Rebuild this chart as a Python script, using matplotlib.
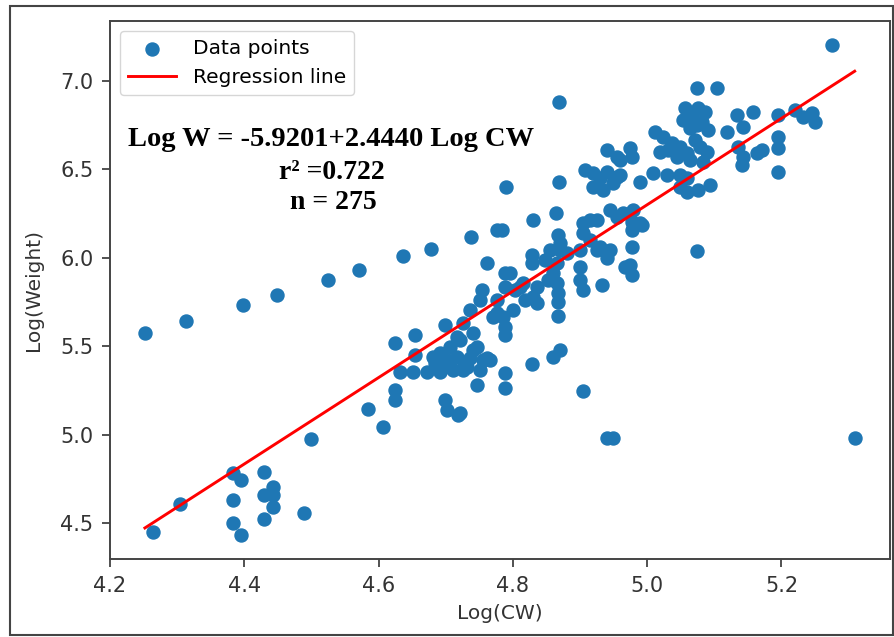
import matplotlib
matplotlib.use("Agg")
import matplotlib.pyplot as plt
import matplotlib.patches as patches
import numpy as np

# Log carapace width vs log weight
log_cw = [
    4.252, 4.313, 4.398, 4.449, 4.525, 4.571, 4.636, 4.678, 4.264, 4.304,
    4.383, 4.395, 4.383, 4.383, 4.395, 4.429, 4.443, 4.429, 4.443, 4.443,
    4.429, 4.489, 4.499, 4.584, 4.607, 4.624, 4.624, 4.624, 4.654, 4.654,
    4.632, 4.651, 4.672, 4.691, 4.711, 4.732, 4.751, 4.761, 4.747, 4.681,
    4.691, 4.684, 4.699, 4.726, 4.741, 4.706, 4.721, 4.699, 4.702, 4.721,
    4.747, 4.738, 4.776, 4.761, 4.754, 4.736, 4.751, 4.776, 4.770, 4.706,
    4.726, 4.718, 4.741, 4.755, 4.766, 4.717, 4.785, 4.788, 4.788, 4.788,
    4.788, 4.788, 4.788, 4.796, 4.790, 4.784, 4.811, 4.830, 4.836, 4.800,
    4.776, 4.828, 4.828, 4.828, 4.830, 4.815, 4.836, 4.864, 4.867, 4.869,
    4.869, 4.870, 4.870, 4.855, 4.881, 4.860, 4.866, 4.867, 4.867, 4.867,
    4.870, 4.860, 4.866, 4.900, 4.925, 4.945, 4.940, 4.900, 4.900, 4.904,
    4.933, 4.905, 4.904, 4.915, 4.930, 4.915, 4.904, 4.925, 4.945, 4.955,
    4.964, 4.977, 4.992, 4.977, 4.907, 4.919, 4.940, 4.955, 4.949, 4.919,
    4.940, 4.974, 4.977, 4.955, 4.940, 4.949, 4.977, 4.974, 4.967, 4.977,
    4.960, 4.960, 4.989, 4.979, 4.989, 5.012, 5.024, 5.037, 5.049, 5.019,
    5.059, 5.079, 5.089, 5.083, 5.064, 5.044, 5.074, 5.104, 5.056, 5.076,
    5.067, 5.053, 5.082, 5.091, 5.074, 5.119, 5.009, 5.029, 5.049, 5.059,
    5.049, 5.059, 5.076, 5.094, 5.074, 5.134, 5.143, 5.158, 5.135, 5.143,
    5.141, 5.164, 5.171, 5.195, 5.220, 5.232, 5.245, 5.250, 5.195, 5.195,
    5.195, 5.275, 5.309,
    4.702, 4.717, 4.736, 4.930, 4.934, 5.064, 5.086, 5.031, 5.071, 4.848,
    4.852, 4.818, 4.803, 4.694, 4.727,
]
log_weight = [
    5.575, 5.643, 5.733, 5.790, 5.874, 5.931, 6.010, 6.050, 4.449, 4.607,
    4.783, 4.743, 4.630, 4.500, 4.432, 4.788, 4.704, 4.658, 4.658, 4.591,
    4.523, 4.557, 4.975, 5.145, 5.043, 5.518, 5.252, 5.196, 5.563, 5.450,
    5.354, 5.354, 5.354, 5.354, 5.365, 5.382, 5.365, 5.433, 5.495, 5.439,
    5.462, 5.405, 5.620, 5.631, 5.575, 5.495, 5.535, 5.196, 5.139, 5.122,
    5.281, 6.118, 6.157, 5.971, 5.818, 5.705, 5.761, 5.761, 5.665, 5.382,
    5.365, 5.111, 5.478, 5.422, 5.422, 5.552, 5.665, 5.609, 5.563, 5.914,
    5.835, 5.348, 5.264, 5.914, 6.400, 6.157, 5.835, 5.778, 5.744, 5.705,
    5.688, 6.016, 5.971, 5.399, 6.214, 5.857, 5.835, 6.253, 6.129, 6.429,
    6.881, 6.084, 6.044, 6.044, 6.027, 5.914, 5.857, 5.801, 5.750, 5.671,
    5.479, 5.439, 5.971, 6.044, 6.044, 6.044, 5.999, 5.948, 5.874, 5.818,
    5.846, 5.247, 6.140, 6.101, 6.061, 6.214, 6.197, 6.214, 6.270, 6.231,
    6.253, 6.202, 6.186, 6.157, 6.497, 6.480, 6.485, 6.457, 6.423, 6.400,
    6.610, 6.621, 6.570, 6.570, 4.981, 4.981, 6.061, 5.959, 5.948, 5.903,
    6.553, 6.468, 6.429, 6.270, 6.197, 6.712, 6.683, 6.649, 6.627, 6.598,
    6.593, 6.627, 6.598, 6.542, 6.553, 6.570, 6.960, 6.960, 6.847, 6.847,
    6.808, 6.779, 6.768, 6.723, 6.751, 6.712, 6.480, 6.468, 6.468, 6.451,
    6.400, 6.372, 6.383, 6.412, 6.038, 6.808, 6.740, 6.825, 6.627, 6.570,
    6.525, 6.593, 6.610, 6.808, 6.836, 6.796, 6.819, 6.768, 6.683, 6.621,
    6.485, 7.204, 4.981,
    5.422, 5.439, 5.433, 6.451, 6.383, 6.734, 6.825, 6.610, 6.666, 5.988,
    5.874, 5.761, 5.818, 5.405, 5.405,
]

# regression coefficients from the annotation
intercept = -5.9201
slope = 2.4440
r_squared = 0.722
n_obs = 275

x = np.array(log_cw)
y = np.array(log_weight)
x_line = np.linspace(x.min(), x.max(), 100)
y_line = intercept + slope * x_line

fig = plt.figure(figsize=(8.95, 6.37), dpi=100)
ax = fig.add_axes([0.1229, 0.1224, 0.8715, 0.8446])

ax.scatter(x, y, s=88, color='#1f77b4', label='Data points')
ax.plot(x_line, y_line, color='red', linewidth=2.1, label='Regression line')

ax.set_xlim(4.2, 5.3616)
ax.set_ylim(4.296, 7.339)
ax.set_xticks([4.2, 4.4, 4.6, 4.8, 5.0, 5.2])
ax.set_yticks([4.5, 5.0, 5.5, 6.0, 6.5, 7.0])
ax.tick_params(labelsize=15, length=6, width=1.2, pad=6, colors='#333333')
for sp in ax.spines.values():
    sp.set_color('#444444')
    sp.set_linewidth(1.4)

ax.set_xlabel('Log(CW)', fontsize=14.5, color='#333333', labelpad=6)
ax.set_ylabel('Log(Weight)', fontsize=14.5, color='#333333', labelpad=12)

ax.legend(loc='upper left', fontsize=14.5, scatterpoints=1, handlelength=2.4,
          borderaxespad=0.5)

# equation block
serif = dict(family='Liberation Serif', fontweight='bold', color='black',
             ha='center', va='center', transform=ax.transAxes)
ax.text(0.284, 0.779, f'Log W = {intercept:.4f}+{slope:.4f} Log CW', fontsize=20.5, **serif)
ax.text(0.285, 0.719, f'r\u00b2 ={r_squared:.3f}', fontsize=20, **serif)
ax.text(0.286, 0.662, f'n = {n_obs}', fontsize=20, **serif)

# outer frame of the screenshot
frame = patches.Rectangle((0.0112, 0.003), 0.9866, 0.9876, transform=fig.transFigure,
                          fill=False, edgecolor='#444444', linewidth=1.5)
fig.patches.append(frame)

fig.savefig('out.png', dpi=100, facecolor='white')
